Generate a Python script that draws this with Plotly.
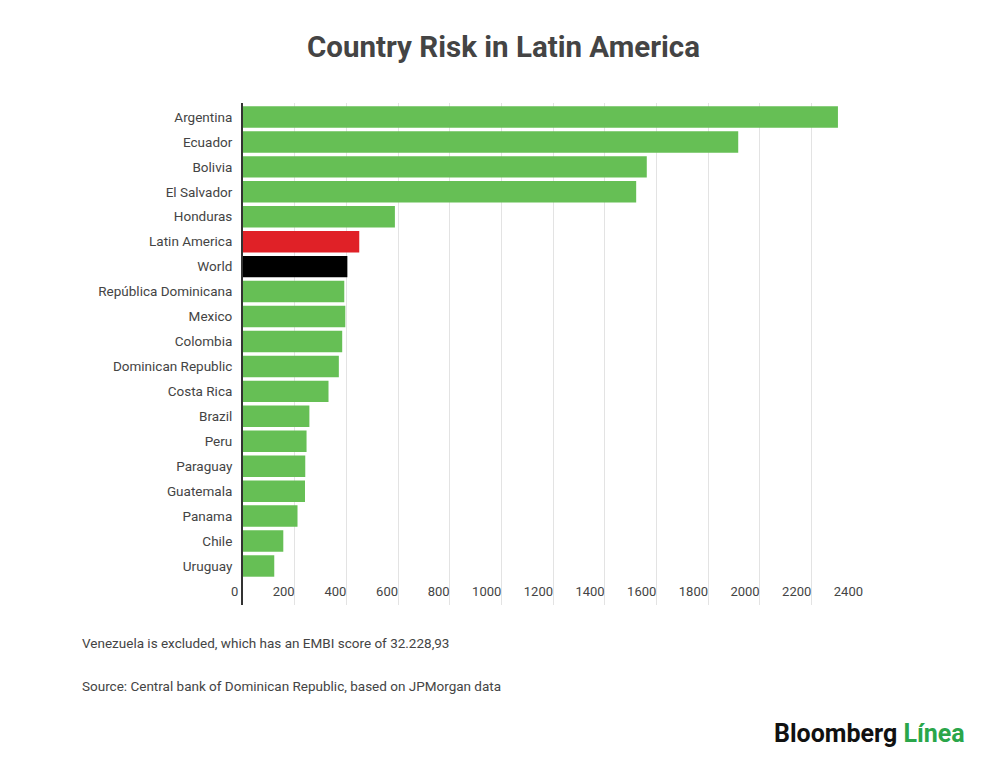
import plotly.graph_objects as go

# data (EMBI spread, basis points)
countries = [
    "Argentina", "Ecuador", "Bolivia", "El Salvador", "Honduras",
    "Latin America", "World", "República Dominicana", "Mexico", "Colombia",
    "Dominican Republic", "Costa Rica", "Brazil", "Peru", "Paraguay",
    "Guatemala", "Panama", "Chile", "Uruguay",
]
risk = [
    2303, 1917, 1563, 1522, 588,
    450, 404, 392, 396, 384,
    371, 331, 257, 246, 241,
    240, 211, 156, 121,
]

GREEN = "#66bf55"
highlight = {"Latin America": "#e02127", "World": "#000000"}
bar_colors = [highlight.get(c, GREEN) for c in countries]

FONT = "Roboto, Arial, sans-serif"
TEXT = "#444444"

# plot area: x 243..863, y 103..605 (page body adds an 8px offset)
X0, Y0, PW, PH = 243, 103, 620, 502
BOTTOM = Y0 + PH


def py(ypx):
    # page pixel row -> paper y
    return (BOTTOM - ypx) / PH


def px(xpx):
    return (xpx - X0) / PW


fig = go.Figure()
fig.add_trace(go.Bar(
    x=risk, y=countries, orientation="h",
    marker=dict(color=bar_colors, line=dict(width=0)),
    hoverinfo="x+y",
))

fig.update_layout(
    width=1000, height=763,
    paper_bgcolor="white", plot_bgcolor="white",
    margin=dict(l=X0 - 8, r=1000 - (X0 - 8) - PW, t=Y0 - 8, b=763 - (Y0 - 8) - PH),
    bargap=0.14,
    showlegend=False,
    font=dict(family=FONT, color=TEXT, size=13),
    title=dict(text="<b>Country Risk in Latin America</b>", x=0.4955, xanchor="center",
               y=0.949, yanchor="middle",
               font=dict(family=FONT, size=29.5, color="#444444")),
)

fig.update_xaxes(
    range=[0, 2400], dtick=200, tick0=0,
    showgrid=True, gridcolor="#e3e3e3", gridwidth=1,
    zeroline=False, showline=False,
    ticks="", ticklabelposition="inside left",
    tickfont=dict(size=13, color=TEXT),
    fixedrange=True,
)
fig.update_yaxes(
    range=[len(countries) - 1 + 1.564, -0.56],
    showgrid=False, zeroline=False,
    showline=True, linecolor="#333333", linewidth=2,
    ticks="", ticklabelstandoff=6,
    tickfont=dict(size=13.5, color=TEXT),
    fixedrange=True,
)

# "0" tick label sits outside the plot area, left of the axis line
fig.add_annotation(text="0", xref="x", yref="paper", x=0, y=py(591),
                   xanchor="right", yanchor="middle", xshift=-3, showarrow=False,
                   font=dict(family=FONT, size=13, color=TEXT))

# footnotes
fig.add_annotation(text="Venezuela is excluded, which has an EMBI score of 32.228,93",
                   xref="paper", yref="paper", x=px(80), y=py(643),
                   xanchor="left", yanchor="middle", showarrow=False,
                   font=dict(family=FONT, size=13.5, color=TEXT))
fig.add_annotation(text="Source: Central bank of Dominican Republic, based on JPMorgan data",
                   xref="paper", yref="paper", x=px(80), y=py(686),
                   xanchor="left", yanchor="middle", showarrow=False,
                   font=dict(family=FONT, size=13.5, color=TEXT))

# logo
fig.add_annotation(text="<b>Bloomberg</b> <b><span style='color:#2aa64a'>Línea</span></b>",
                   xref="paper", yref="paper", x=px(967), y=py(733),
                   xanchor="right", yanchor="middle", showarrow=False,
                   font=dict(family="Liberation Sans Narrow, Roboto, sans-serif", size=25,
                             color="#111111"))

fig.write_html("out.html")
